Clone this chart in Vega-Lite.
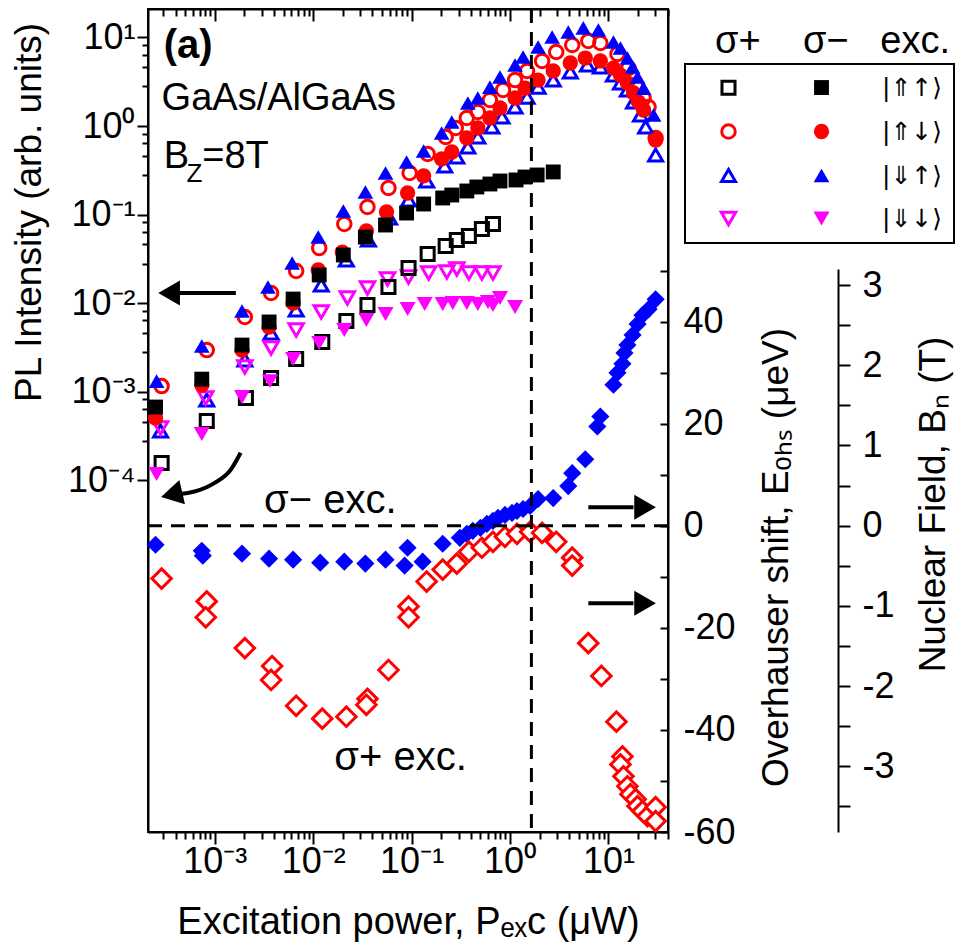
{
"$schema":"https://vega.github.io/schema/vega-lite/v6.json",
"width":520,"height":823,
"autosize":{"type":"none"},
"padding":{"left":148,"top":9,"right":295,"bottom":111},
"background":"white",
"config":{
 "font":"Liberation Sans",
 "view":{"stroke":"#000","strokeWidth":2},
 "axis":{"domainColor":"#000","domainWidth":2,"tickColor":"#000","tickWidth":2,"labelColor":"#000","titleColor":"#000","labelFont":"Liberation Sans","titleFont":"Liberation Sans","labelFontSize":36,"titleFontSize":37,"titleFontWeight":"normal","grid":false,"labelFlush":false,"labelOverlap":false},
 "legend":{"strokeWidth":2},
 "text":{"font":"Liberation Sans","color":"#000"}
},
"title":{"text":"σ+\u00a0\u00a0\u00a0\u00a0σ−\u00a0\u00a0\u00a0exc.","orient":"top","anchor":"end","frame":"group","offset":0,"dx":282,"dy":83,"baseline":"alphabetic","fontSize":38,"fontWeight":"normal","font":"Liberation Sans","color":"#000"},
"datasets":{
"pl":[
{"s":"σ+ |⇑↓⟩","x":0.000288,"y":0.00116},{"s":"σ+ |⇑↓⟩","x":0.000828,"y":0.00296},{"s":"σ+ |⇑↓⟩","x":0.00202,"y":0.00699},{"s":"σ+ |⇑↓⟩","x":0.00373,"y":0.01303},{"s":"σ+ |⇑↓⟩","x":0.00671,"y":0.0231},{"s":"σ+ |⇑↓⟩","x":0.01151,"y":0.042},{"s":"σ+ |⇑↓⟩","x":0.0207,"y":0.0783},{"s":"σ+ |⇑↓⟩","x":0.0356,"y":0.1218},{"s":"σ+ |⇑↓⟩","x":0.0582,"y":0.1995},{"s":"σ+ |⇑↓⟩","x":0.0955,"y":0.295},{"s":"σ+ |⇑↓⟩","x":0.1456,"y":0.483},{"s":"σ+ |⇑↓⟩","x":0.222,"y":0.751},{"s":"σ+ |⇑↓⟩","x":0.281,"y":0.949},{"s":"σ+ |⇑↓⟩","x":0.364,"y":1.231},{"s":"σ+ |⇑↓⟩","x":0.471,"y":1.439},{"s":"σ+ |⇑↓⟩","x":0.625,"y":1.965},{"s":"σ+ |⇑↓⟩","x":0.849,"y":2.55},{"s":"σ+ |⇑↓⟩","x":1.125,"y":3.3},{"s":"σ+ |⇑↓⟩","x":1.49,"y":4.18},{"s":"σ+ |⇑↓⟩","x":2.12,"y":5.42},{"s":"σ+ |⇑↓⟩","x":2.95,"y":6.84},{"s":"σ+ |⇑↓⟩","x":4.29,"y":8.21},{"s":"σ+ |⇑↓⟩","x":6.25,"y":9.11},{"s":"σ+ |⇑↓⟩","x":8.28,"y":8.64},{"s":"σ+ |⇑↓⟩","x":12.36,"y":6.5},{"s":"σ+ |⇑↓⟩","x":16.0,"y":4.51},{"s":"σ+ |⇑↓⟩","x":18.9,"y":2.9},{"s":"σ+ |⇑↓⟩","x":22.8,"y":2.07},{"s":"σ+ |⇑↓⟩","x":25.6,"y":1.64},{"s":"σ+ |⇑↓⟩","x":30.2,"y":0.732},
{"s":"σ+ |⇓↑⟩","x":0.000281,"y":0.000361},{"s":"σ+ |⇓↑⟩","x":0.000828,"y":0.000807},{"s":"σ+ |⇓↑⟩","x":0.00202,"y":0.00229},{"s":"σ+ |⇓↑⟩","x":0.00373,"y":0.00461},{"s":"σ+ |⇓↑⟩","x":0.00671,"y":0.00838},{"s":"σ+ |⇓↑⟩","x":0.01207,"y":0.01604},{"s":"σ+ |⇓↑⟩","x":0.02172,"y":0.0307},{"s":"σ+ |⇓↑⟩","x":0.0364,"y":0.0517},{"s":"σ+ |⇓↑⟩","x":0.0597,"y":0.0916},{"s":"σ+ |⇓↑⟩","x":0.0931,"y":0.146},{"s":"σ+ |⇓↑⟩","x":0.1422,"y":0.2395},{"s":"σ+ |⇓↑⟩","x":0.217,"y":0.354},{"s":"σ+ |⇓↑⟩","x":0.288,"y":0.447},{"s":"σ+ |⇓↑⟩","x":0.373,"y":0.579},{"s":"σ+ |⇓↑⟩","x":0.471,"y":0.751},{"s":"σ+ |⇓↑⟩","x":0.655,"y":0.975},{"s":"σ+ |⇓↑⟩","x":0.829,"y":1.264},{"s":"σ+ |⇓↑⟩","x":1.125,"y":1.64},{"s":"σ+ |⇓↑⟩","x":1.49,"y":2.12},{"s":"σ+ |⇓↑⟩","x":1.93,"y":2.75},{"s":"σ+ |⇓↑⟩","x":2.75,"y":3.3},{"s":"σ+ |⇓↑⟩","x":4.1,"y":4.07},{"s":"σ+ |⇓↑⟩","x":6.11,"y":4.88},{"s":"σ+ |⇓↑⟩","x":8.28,"y":4.63},{"s":"σ+ |⇓↑⟩","x":11.25,"y":3.76},{"s":"σ+ |⇓↑⟩","x":13.26,"y":3.06},{"s":"σ+ |⇓↑⟩","x":15.6,"y":2.55},{"s":"σ+ |⇓↑⟩","x":18.0,"y":1.87},{"s":"σ+ |⇓↑⟩","x":21.2,"y":1.33},{"s":"σ+ |⇓↑⟩","x":23.9,"y":0.975},{"s":"σ+ |⇓↑⟩","x":30.2,"y":0.471},
{"s":"σ+ |⇓↓⟩","x":0.000281,"y":0.00039},{"s":"σ+ |⇓↓⟩","x":0.000809,"y":0.000851},{"s":"σ+ |⇓↓⟩","x":0.00202,"y":0.00191},{"s":"σ+ |⇓↓⟩","x":0.00373,"y":0.00312},{"s":"σ+ |⇓↓⟩","x":0.00671,"y":0.00499},{"s":"σ+ |⇓↓⟩","x":0.01207,"y":0.00796},{"s":"σ+ |⇓↓⟩","x":0.02223,"y":0.01145},{"s":"σ+ |⇓↓⟩","x":0.0356,"y":0.01485},{"s":"σ+ |⇓↓⟩","x":0.0569,"y":0.01876},{"s":"σ+ |⇓↓⟩","x":0.0931,"y":0.01976},{"s":"σ+ |⇓↓⟩","x":0.1491,"y":0.0219},{"s":"σ+ |⇓↓⟩","x":0.228,"y":0.0225},{"s":"σ+ |⇓↓⟩","x":0.288,"y":0.0243},{"s":"σ+ |⇓↓⟩","x":0.382,"y":0.0219},{"s":"σ+ |⇓↓⟩","x":0.518,"y":0.0219},{"s":"σ+ |⇓↓⟩","x":0.671,"y":0.0219},
{"s":"σ+ |⇑↑⟩","x":0.000288,"y":0.000157},{"s":"σ+ |⇑↑⟩","x":0.000828,"y":0.000468},{"s":"σ+ |⇑↑⟩","x":0.00207,"y":0.000851},{"s":"σ+ |⇑↑⟩","x":0.00373,"y":0.00143},{"s":"σ+ |⇑↑⟩","x":0.00671,"y":0.00235},{"s":"σ+ |⇑↑⟩","x":0.01236,"y":0.00365},{"s":"σ+ |⇑↑⟩","x":0.02172,"y":0.0063},{"s":"σ+ |⇑↑⟩","x":0.0356,"y":0.00955},{"s":"σ+ |⇑↑⟩","x":0.0582,"y":0.01524},{"s":"σ+ |⇑↑⟩","x":0.0931,"y":0.025},{"s":"σ+ |⇑↑⟩","x":0.1456,"y":0.0359},{"s":"σ+ |⇑↑⟩","x":0.222,"y":0.0442},{"s":"σ+ |⇑↑⟩","x":0.288,"y":0.0517},{"s":"σ+ |⇑↑⟩","x":0.382,"y":0.0573},{"s":"σ+ |⇑↑⟩","x":0.518,"y":0.0687},{"s":"σ+ |⇑↑⟩","x":0.671,"y":0.0783},
{"s":"σ− |⇑↓⟩","x":0.00025,"y":0.000506},{"s":"σ− |⇑↓⟩","x":0.000737,"y":0.00119},{"s":"σ− |⇑↓⟩","x":0.00189,"y":0.00296},{"s":"σ− |⇑↓⟩","x":0.00356,"y":0.00538},{"s":"σ− |⇑↓⟩","x":0.00625,"y":0.01005},{"s":"σ− |⇑↓⟩","x":0.01125,"y":0.0237},{"s":"σ− |⇑↓⟩","x":0.01976,"y":0.0378},{"s":"σ− |⇑↓⟩","x":0.0347,"y":0.0653},{"s":"σ− |⇑↓⟩","x":0.0556,"y":0.107},{"s":"σ− |⇑↓⟩","x":0.091,"y":0.1754},{"s":"σ− |⇑↓⟩","x":0.1325,"y":0.273},{"s":"σ− |⇑↓⟩","x":0.202,"y":0.425},{"s":"σ− |⇑↓⟩","x":0.256,"y":0.509},{"s":"σ− |⇑↓⟩","x":0.364,"y":0.732},{"s":"σ− |⇑↓⟩","x":0.471,"y":0.949},{"s":"σ− |⇑↓⟩","x":0.625,"y":1.231},{"s":"σ− |⇑↓⟩","x":0.791,"y":1.596},{"s":"σ− |⇑↓⟩","x":1.125,"y":2.07},{"s":"σ− |⇑↓⟩","x":1.422,"y":2.68},{"s":"σ− |⇑↓⟩","x":1.93,"y":3.3},{"s":"σ− |⇑↓⟩","x":2.75,"y":4.18},{"s":"σ− |⇑↓⟩","x":4.1,"y":5.14},{"s":"σ− |⇑↓⟩","x":5.82,"y":5.85},{"s":"σ− |⇑↓⟩","x":8.28,"y":5.42},{"s":"σ− |⇑↓⟩","x":11.25,"y":4.51},{"s":"σ− |⇑↓⟩","x":13.26,"y":3.76},{"s":"σ− |⇑↓⟩","x":15.6,"y":3.06},{"s":"σ− |⇑↓⟩","x":18.0,"y":2.36},{"s":"σ− |⇑↓⟩","x":20.2,"y":1.87},{"s":"σ− |⇑↓⟩","x":22.8,"y":1.516},{"s":"σ− |⇑↓⟩","x":30.2,"y":0.695},
{"s":"σ− |⇑↑⟩","x":0.00025,"y":0.000673},{"s":"σ− |⇑↑⟩","x":0.000737,"y":0.00139},{"s":"σ− |⇑↑⟩","x":0.00189,"y":0.00337},{"s":"σ− |⇑↑⟩","x":0.00356,"y":0.00614},{"s":"σ− |⇑↑⟩","x":0.00625,"y":0.01114},{"s":"σ− |⇑↑⟩","x":0.01151,"y":0.0208},{"s":"σ− |⇑↑⟩","x":0.02023,"y":0.035},{"s":"σ− |⇑↑⟩","x":0.0339,"y":0.0558},{"s":"σ− |⇑↑⟩","x":0.0543,"y":0.0763},{"s":"σ− |⇑↑⟩","x":0.0889,"y":0.1042},{"s":"σ− |⇑↑⟩","x":0.1325,"y":0.1317},{"s":"σ− |⇑↑⟩","x":0.207,"y":0.154},{"s":"σ− |⇑↑⟩","x":0.256,"y":0.1664},{"s":"σ− |⇑↑⟩","x":0.364,"y":0.1847},{"s":"σ− |⇑↑⟩","x":0.46,"y":0.205},{"s":"σ− |⇑↑⟩","x":0.625,"y":0.2215},{"s":"σ− |⇑↑⟩","x":0.791,"y":0.2395},{"s":"σ− |⇑↑⟩","x":1.152,"y":0.246},{"s":"σ− |⇑↑⟩","x":1.422,"y":0.2656},{"s":"σ− |⇑↑⟩","x":1.887,"y":0.28},{"s":"σ− |⇑↑⟩","x":2.75,"y":0.303},
{"s":"σ− |⇓↑⟩","x":0.000256,"y":0.00132},{"s":"σ− |⇓↑⟩","x":0.000737,"y":0.00329},{"s":"σ− |⇓↑⟩","x":0.00189,"y":0.00817},{"s":"σ− |⇓↑⟩","x":0.00347,"y":0.01524},{"s":"σ− |⇓↑⟩","x":0.00611,"y":0.0284},{"s":"σ− |⇓↑⟩","x":0.01125,"y":0.0558},{"s":"σ− |⇓↑⟩","x":0.02023,"y":0.1098},{"s":"σ− |⇓↑⟩","x":0.0339,"y":0.18},{"s":"σ− |⇓↑⟩","x":0.0543,"y":0.295},{"s":"σ− |⇓↑⟩","x":0.0889,"y":0.393},{"s":"σ− |⇓↑⟩","x":0.1325,"y":0.522},{"s":"σ− |⇓↑⟩","x":0.202,"y":0.834},{"s":"σ− |⇓↑⟩","x":0.256,"y":1.11},{"s":"σ− |⇓↑⟩","x":0.373,"y":1.82},{"s":"σ− |⇓↑⟩","x":0.471,"y":2.07},{"s":"σ− |⇓↑⟩","x":0.625,"y":2.75},{"s":"σ− |⇓↑⟩","x":0.791,"y":3.57},{"s":"σ− |⇓↑⟩","x":1.125,"y":4.88},{"s":"σ− |⇓↑⟩","x":1.358,"y":6.01},{"s":"σ− |⇓↑⟩","x":1.93,"y":7.79},{"s":"σ− |⇓↑⟩","x":2.68,"y":10.1},{"s":"σ− |⇓↑⟩","x":3.91,"y":11.5},{"s":"σ− |⇓↑⟩","x":5.56,"y":12.8},{"s":"σ− |⇓↑⟩","x":7.91,"y":12.1},{"s":"σ− |⇓↑⟩","x":11.25,"y":8.87},{"s":"σ− |⇓↑⟩","x":13.26,"y":7.59},{"s":"σ− |⇓↑⟩","x":15.6,"y":5.85},{"s":"σ− |⇓↑⟩","x":17.6,"y":4.63},{"s":"σ− |⇓↑⟩","x":19.8,"y":3.57},{"s":"σ− |⇓↑⟩","x":22.8,"y":2.68},{"s":"σ− |⇓↑⟩","x":28.8,"y":1.33},
{"s":"σ− |⇓↓⟩","x":0.000256,"y":0.000118},{"s":"σ− |⇓↓⟩","x":0.000737,"y":0.000334},{"s":"σ− |⇓↓⟩","x":0.00189,"y":0.000873},{"s":"σ− |⇓↓⟩","x":0.00364,"y":0.00132},{"s":"σ− |⇓↓⟩","x":0.00625,"y":0.00235},{"s":"σ− |⇓↓⟩","x":0.01151,"y":0.00356},{"s":"σ− |⇓↓⟩","x":0.0207,"y":0.00499},{"s":"σ− |⇓↓⟩","x":0.0347,"y":0.00646},{"s":"σ− |⇓↓⟩","x":0.0543,"y":0.00755},{"s":"σ− |⇓↓⟩","x":0.091,"y":0.00861},{"s":"σ− |⇓↓⟩","x":0.1358,"y":0.0098},{"s":"σ− |⇓↓⟩","x":0.207,"y":0.0098},{"s":"σ− |⇓↓⟩","x":0.262,"y":0.01005},{"s":"σ− |⇓↓⟩","x":0.364,"y":0.01005},{"s":"σ− |⇓↓⟩","x":0.471,"y":0.0098},{"s":"σ− |⇓↓⟩","x":0.597,"y":0.01032},{"s":"σ− |⇓↓⟩","x":0.671,"y":0.00955},{"s":"σ− |⇓↓⟩","x":0.791,"y":0.01145},{"s":"σ− |⇓↓⟩","x":1.125,"y":0.00906}
],
"ohs":[
{"exc":"σ−","x":0.00025,"e":-3.7},{"exc":"σ−","x":0.000737,"e":-4.87},{"exc":"σ−","x":0.000755,"e":-5.84},{"exc":"σ−","x":0.00189,"e":-5.45},{"exc":"σ−","x":0.00356,"e":-6.43},{"exc":"σ−","x":0.00625,"e":-6.62},{"exc":"σ−","x":0.01178,"e":-7.21},{"exc":"σ−","x":0.0207,"e":-7.01},{"exc":"σ−","x":0.0339,"e":-7.4},{"exc":"σ−","x":0.0543,"e":-6.62},{"exc":"σ−","x":0.091,"e":-4.29},{"exc":"σ−","x":0.0849,"e":-7.79},{"exc":"σ−","x":0.1294,"e":-7.01},{"exc":"σ−","x":0.207,"e":-3.51},{"exc":"σ−","x":0.309,"e":-2.34},{"exc":"σ−","x":0.364,"e":-1.56},{"exc":"σ−","x":0.419,"e":-0.97},{"exc":"σ−","x":0.5,"e":-0.39},{"exc":"σ−","x":0.582,"e":0.39},{"exc":"σ−","x":0.671,"e":0.97},{"exc":"σ−","x":0.755,"e":1.56},{"exc":"σ−","x":0.889,"e":2.14},{"exc":"σ−","x":1.048,"e":2.53},{"exc":"σ−","x":1.178,"e":2.92},{"exc":"σ−","x":1.358,"e":3.31},{"exc":"σ−","x":1.6,"e":3.9},{"exc":"σ−","x":1.93,"e":5.26},{"exc":"σ−","x":2.75,"e":5.45},{"exc":"σ−","x":3.91,"e":7.79},{"exc":"σ−","x":4.29,"e":10.33},{"exc":"σ−","x":5.82,"e":13.05},{"exc":"σ−","x":7.72,"e":19.48},{"exc":"σ−","x":8.28,"e":21.43},{"exc":"σ−","x":11.25,"e":27.66},{"exc":"σ−","x":12.36,"e":30.0},{"exc":"σ−","x":13.89,"e":31.76},{"exc":"σ−","x":14.56,"e":33.9},{"exc":"σ−","x":15.6,"e":35.46},{"exc":"σ−","x":17.6,"e":37.4},{"exc":"σ−","x":19.8,"e":39.55},{"exc":"σ−","x":22.2,"e":41.3},{"exc":"σ−","x":25.6,"e":42.47},{"exc":"σ−","x":30.2,"e":44.4},
{"exc":"σ+","x":0.000288,"e":-10.33},{"exc":"σ+","x":0.000828,"e":-14.81},{"exc":"σ+","x":0.000809,"e":-17.92},{"exc":"σ+","x":0.00202,"e":-23.96},{"exc":"σ+","x":0.00382,"e":-27.47},{"exc":"σ+","x":0.00373,"e":-30.2},{"exc":"σ+","x":0.00671,"e":-35.26},{"exc":"σ+","x":0.01236,"e":-37.79},{"exc":"σ+","x":0.02172,"e":-37.41},{"exc":"σ+","x":0.0356,"e":-33.9},{"exc":"σ+","x":0.0347,"e":-35.07},{"exc":"σ+","x":0.0582,"e":-28.25},{"exc":"σ+","x":0.0931,"e":-15.78},{"exc":"σ+","x":0.0931,"e":-17.92},{"exc":"σ+","x":0.1422,"e":-10.91},{"exc":"σ+","x":0.207,"e":-8.57},{"exc":"σ+","x":0.288,"e":-7.4},{"exc":"σ+","x":0.382,"e":-5.07},{"exc":"σ+","x":0.518,"e":-4.29},{"exc":"σ+","x":0.671,"e":-3.12},{"exc":"σ+","x":0.889,"e":-2.14},{"exc":"σ+","x":1.178,"e":-1.56},{"exc":"σ+","x":1.6,"e":-1.17},{"exc":"σ+","x":2.12,"e":-1.36},{"exc":"σ+","x":2.95,"e":-3.12},{"exc":"σ+","x":4.29,"e":-6.23},{"exc":"σ+","x":4.29,"e":-7.79},{"exc":"σ+","x":6.25,"e":-22.99},{"exc":"σ+","x":8.48,"e":-29.42},{"exc":"σ+","x":12.07,"e":-38.38},{"exc":"σ+","x":13.89,"e":-45.2},{"exc":"σ+","x":13.26,"e":-46.76},{"exc":"σ+","x":14.22,"e":-49.09},{"exc":"σ+","x":15.6,"e":-51.04},{"exc":"σ+","x":16.76,"e":-52.6},{"exc":"σ+","x":18.9,"e":-53.58},{"exc":"σ+","x":19.8,"e":-54.94},{"exc":"σ+","x":22.2,"e":-55.91},{"exc":"σ+","x":25.0,"e":-56.89},{"exc":"σ+","x":30.2,"e":-55.13},{"exc":"σ+","x":30.2,"e":-57.86}
]
},
"layer":[
{
 "layer":[
  {"data":{"name":"pl"},
   "mark":{"type":"point","strokeWidth":3,"opacity":1},
   "encoding":{
    "x":{"field":"x","type":"quantitative","scale":{"type":"log","domain":[0.0002094,40.34],"nice":false},
      "axis":{"orient":"bottom","values":[0.0003,0.0004,0.0005,0.0006,0.0007,0.0008,0.0009,0.001,0.002,0.003,0.004,0.005,0.006,0.007,0.008,0.009,0.01,0.02,0.03,0.04,0.05,0.06,0.07,0.08,0.09,0.1,0.2,0.3,0.4,0.5,0.6,0.7,0.8,0.9,1,2,3,4,5,6,7,8,9,10,20,30,40],
       "labelExpr":"abs(log(datum.value)/LN10-round(log(datum.value)/LN10))>0.001 ? '' : round(log(datum.value)/LN10)==-4 ? '10⁻⁴' : round(log(datum.value)/LN10)==-3 ? '10⁻³' : round(log(datum.value)/LN10)==-2 ? '10⁻²' : round(log(datum.value)/LN10)==-1 ? '10⁻¹' : round(log(datum.value)/LN10)==0 ? '10⁰' : '10¹'",
       "tickSize":{"condition":{"test":"abs(log(datum.value)/LN10-round(log(datum.value)/LN10))<0.001","value":12},"value":7},
       "labelPadding":0,
       "title":"Excitation power, Pₑₓc (μW)","titleFontSize":38,"titleY":101,"titleBaseline":"alphabetic"}},
    "y":{"field":"y","type":"quantitative","scale":{"type":"log","domain":[1.076e-8,20.92],"nice":false},
      "axis":{"orient":"left","values":[0.0001,0.00028,0.00046,0.00064,0.00082,0.001,0.0028,0.0046,0.0064,0.0082,0.01,0.028,0.046,0.064,0.082,0.1,0.28,0.46,0.64,0.82,1,2.8,4.6,6.4,8.2,10],
       "labelExpr":"abs(log(datum.value)/LN10-round(log(datum.value)/LN10))>0.001 ? '' : round(log(datum.value)/LN10)==-4 ? '10⁻⁴' : round(log(datum.value)/LN10)==-3 ? '10⁻³' : round(log(datum.value)/LN10)==-2 ? '10⁻²' : round(log(datum.value)/LN10)==-1 ? '10⁻¹' : round(log(datum.value)/LN10)==0 ? '10⁰' : '10¹'",
       "tickSize":{"condition":{"test":"abs(log(datum.value)/LN10-round(log(datum.value)/LN10))<0.001","value":11},"value":6},
       "labelPadding":2,
       "title":"PL Intensity (arb. units)","titleAngle":-90,"titleX":-100,"titleY":203,"titleBaseline":"bottom","titleAlign":"center"}},
    "shape":{"field":"s","type":"nominal",
      "scale":{"domain":["σ+ |⇑↑⟩","σ+ |⇑↓⟩","σ+ |⇓↑⟩","σ+ |⇓↓⟩","σ− |⇑↑⟩","σ− |⇑↓⟩","σ− |⇓↑⟩","σ− |⇓↓⟩"],"range":["square","circle","triangle-up","triangle-down","square","circle","triangle-up","triangle-down"]},
      "legend":{"title":null,"orient":"none","legendX":537,"legendY":55,"columns":2,"padding":11,"rowPadding":16,"columnPadding":0,"labelOffset":48,"symbolOffset":20,"labelFont":"DejaVu Sans","labelFontSize":25,"labelColor":"#000","symbolStrokeWidth":3,"strokeColor":"#000","labelExpr":"datum.label=='σ− |⇑↑⟩' ? '|⇑↑⟩' : datum.label=='σ− |⇑↓⟩' ? '|⇑↓⟩' : datum.label=='σ− |⇓↑⟩' ? '|⇓↑⟩' : datum.label=='σ− |⇓↓⟩' ? '|⇓↓⟩' : ''"}},
    "fill":{"field":"s","type":"nominal",
      "scale":{"domain":["σ+ |⇑↑⟩","σ+ |⇑↓⟩","σ+ |⇓↑⟩","σ+ |⇓↓⟩","σ− |⇑↑⟩","σ− |⇑↓⟩","σ− |⇓↑⟩","σ− |⇓↓⟩"],"range":["transparent","transparent","transparent","transparent","#000000","#ff0000","#0000ff","#ff00ff"]},
      "legend":{"title":null,"orient":"none","legendX":537,"legendY":55,"columns":2,"padding":11,"rowPadding":16,"columnPadding":0,"labelOffset":48,"symbolOffset":20,"labelFont":"DejaVu Sans","labelFontSize":25,"labelColor":"#000","symbolStrokeWidth":3,"strokeColor":"#000","labelExpr":"datum.label=='σ− |⇑↑⟩' ? '|⇑↑⟩' : datum.label=='σ− |⇑↓⟩' ? '|⇑↓⟩' : datum.label=='σ− |⇓↑⟩' ? '|⇓↑⟩' : datum.label=='σ− |⇓↓⟩' ? '|⇓↓⟩' : ''"}},
    "stroke":{"field":"s","type":"nominal",
      "scale":{"domain":["σ+ |⇑↑⟩","σ+ |⇑↓⟩","σ+ |⇓↑⟩","σ+ |⇓↓⟩","σ− |⇑↑⟩","σ− |⇑↓⟩","σ− |⇓↑⟩","σ− |⇓↓⟩"],"range":["#000000","#ff0000","#0000ff","#ff00ff","transparent","transparent","transparent","transparent"]},
      "legend":{"title":null,"orient":"none","legendX":537,"legendY":55,"columns":2,"padding":11,"rowPadding":16,"columnPadding":0,"labelOffset":48,"symbolOffset":20,"labelFont":"DejaVu Sans","labelFontSize":25,"labelColor":"#000","symbolStrokeWidth":3,"strokeColor":"#000","labelExpr":"datum.label=='σ− |⇑↑⟩' ? '|⇑↑⟩' : datum.label=='σ− |⇑↓⟩' ? '|⇑↓⟩' : datum.label=='σ− |⇓↑⟩' ? '|⇓↑⟩' : datum.label=='σ− |⇓↓⟩' ? '|⇓↓⟩' : ''"}},
    "size":{"field":"s","type":"nominal",
      "scale":{"domain":["σ+ |⇑↑⟩","σ+ |⇑↓⟩","σ+ |⇓↑⟩","σ+ |⇓↓⟩","σ− |⇑↑⟩","σ− |⇑↓⟩","σ− |⇓↑⟩","σ− |⇓↓⟩"],"range":[170,260,320,320,90,130,170,150]},
      "legend":{"title":null,"orient":"none","legendX":537,"legendY":55,"columns":2,"padding":11,"rowPadding":16,"columnPadding":0,"labelOffset":48,"symbolOffset":20,"labelFont":"DejaVu Sans","labelFontSize":25,"labelColor":"#000","symbolStrokeWidth":3,"strokeColor":"#000","labelExpr":"datum.label=='σ− |⇑↑⟩' ? '|⇑↑⟩' : datum.label=='σ− |⇑↓⟩' ? '|⇑↓⟩' : datum.label=='σ− |⇓↑⟩' ? '|⇓↑⟩' : datum.label=='σ− |⇓↓⟩' ? '|⇓↓⟩' : ''"}}
   }},
  {"data":{"values":[{"x1":0.001637,"x2":0.000429,"y":0.01303}]},
   "mark":{"type":"rule","color":"#000","strokeWidth":4},
   "encoding":{"x":{"field":"x1","type":"quantitative","scale":{"type":"log","domain":[0.0002094,40.34],"nice":false}},"x2":{"field":"x2"},"y":{"field":"y","type":"quantitative","scale":{"type":"log","domain":[1.076e-8,20.92],"nice":false}}}},
  {"data":{"values":[{"x":0.00183,"y":0.000205},{"x":0.001445,"y":0.000131},{"x":0.000977,"y":0.0000927},{"x":0.00061,"y":0.0000745},{"x":0.000439,"y":0.0000703}]},
   "mark":{"type":"line","color":"#000","strokeWidth":4,"interpolate":"monotone"},
   "encoding":{"x":{"field":"x","type":"quantitative","scale":{"type":"log","domain":[0.0002094,40.34],"nice":false}},"y":{"field":"y","type":"quantitative","scale":{"type":"log","domain":[1.076e-8,20.92],"nice":false}}}},
  {"data":{"values":[{"x":0.000343,"y":0.01303}]},
   "mark":{"type":"point","shape":"triangle-left","filled":true,"size":625,"color":"#000","opacity":1},
   "encoding":{"x":{"field":"x","type":"quantitative","scale":{"type":"log","domain":[0.0002094,40.34],"nice":false}},"y":{"field":"y","type":"quantitative","scale":{"type":"log","domain":[1.076e-8,20.92],"nice":false}}}},
  {"data":{"values":[{"x":0.000364,"y":0.0000693}]},
   "mark":{"type":"point","shape":"triangle-left","filled":true,"size":625,"color":"#000","opacity":1,"angle":-13},
   "encoding":{"x":{"field":"x","type":"quantitative","scale":{"type":"log","domain":[0.0002094,40.34],"nice":false}},"y":{"field":"y","type":"quantitative","scale":{"type":"log","domain":[1.076e-8,20.92],"nice":false}}}},
  {"data":{"values":[{"x":0.000302,"y":5.85,"t":"(a)"}]},
   "mark":{"type":"text","align":"left","baseline":"alphabetic","fontSize":40,"fontWeight":"bold"},
   "encoding":{"x":{"field":"x","type":"quantitative","scale":{"type":"log","domain":[0.0002094,40.34],"nice":false}},"y":{"field":"y","type":"quantitative","scale":{"type":"log","domain":[1.076e-8,20.92],"nice":false}},"text":{"field":"t"}}},
  {"data":{"values":[{"x":0.000288,"y":1.516,"t":"GaAs/AlGaAs"},{"x":0.000302,"y":0.336,"t":"B"},{"x":0.000746,"y":0.336,"t":"=8T"}]},
   "mark":{"type":"text","align":"left","baseline":"alphabetic","fontSize":38},
   "encoding":{"x":{"field":"x","type":"quantitative","scale":{"type":"log","domain":[0.0002094,40.34],"nice":false}},"y":{"field":"y","type":"quantitative","scale":{"type":"log","domain":[1.076e-8,20.92],"nice":false}},"text":{"field":"t"}}},
  {"data":{"values":[{"x":0.000515,"y":0.233,"t":"Z"}]},
   "mark":{"type":"text","align":"left","baseline":"alphabetic","fontSize":26},
   "encoding":{"x":{"field":"x","type":"quantitative","scale":{"type":"log","domain":[0.0002094,40.34],"nice":false}},"y":{"field":"y","type":"quantitative","scale":{"type":"log","domain":[1.076e-8,20.92],"nice":false}},"text":{"field":"t"}}}
 ]
},
{
 "layer":[
  {"data":{"name":"ohs"},"transform":[{"filter":"datum.exc=='σ−'"}],
   "mark":{"type":"point","shape":"diamond","filled":true,"size":330,"color":"#0000ff","opacity":1},
   "encoding":{
    "x":{"field":"x","type":"quantitative","scale":{"type":"log","domain":[0.0002094,40.34],"nice":false},"axis":null},
    "y":{"field":"e","type":"quantitative","scale":{"type":"linear","domain":[-60,101.3],"nice":false,"zero":false},
      "axis":{"orient":"right","values":[-60,-50,-40,-30,-20,-10,0,10,20,30,40,50],"labelExpr":"datum.value % 20 == 0 ? '' + datum.value : ''","tickSize":-8,"labelPadding":23,
       "title":"Overhauser shift, Eₒₕₛ (μeV)","titleAngle":-90,"titleX":127,"titleY":548,"titleBaseline":"bottom","titleAlign":"center"}}}},
  {"data":{"name":"ohs"},"transform":[{"filter":"datum.exc=='σ+'"}],
   "mark":{"type":"point","shape":"diamond","filled":false,"size":380,"stroke":"#ff0000","fill":"white","strokeWidth":3,"opacity":1},
   "encoding":{
    "x":{"field":"x","type":"quantitative","scale":{"type":"log","domain":[0.0002094,40.34],"nice":false}},
    "y":{"field":"e","type":"quantitative","scale":{"type":"linear","domain":[-60,101.3],"nice":false,"zero":false}}}},
  {"data":{"values":[{"x":0.00316,"e":2.49,"t":"σ− exc."},{"x":0.01637,"e":-47.9,"t":"σ+ exc."}]},
   "mark":{"type":"text","align":"left","baseline":"alphabetic","fontSize":40},
   "encoding":{"x":{"field":"x","type":"quantitative","scale":{"type":"log","domain":[0.0002094,40.34],"nice":false}},"y":{"field":"e","type":"quantitative","scale":{"type":"linear","domain":[-60,101.3],"nice":false,"zero":false}},"text":{"field":"t"}}},
  {"data":{"values":[{"x1":6.25,"x2":18.0,"e":3.67},{"x1":6.25,"x2":18.0,"e":-15.16}]},
   "mark":{"type":"rule","color":"#000","strokeWidth":4},
   "encoding":{"x":{"field":"x1","type":"quantitative","scale":{"type":"log","domain":[0.0002094,40.34],"nice":false}},"x2":{"field":"x2"},"y":{"field":"e","type":"quantitative","scale":{"type":"linear","domain":[-60,101.3],"nice":false,"zero":false}}}},
  {"data":{"values":[{"x":23.6,"e":3.67},{"x":23.6,"e":-15.16}]},
   "mark":{"type":"point","shape":"triangle-right","filled":true,"size":625,"color":"#000","opacity":1},
   "encoding":{"x":{"field":"x","type":"quantitative","scale":{"type":"log","domain":[0.0002094,40.34],"nice":false}},"y":{"field":"e","type":"quantitative","scale":{"type":"linear","domain":[-60,101.3],"nice":false,"zero":false}}}}
 ]
},
{"data":{"values":[{"t":0}]},
 "mark":{"type":"rule","color":"#000","strokeWidth":3,"strokeDash":[14,9]},
 "encoding":{"y":{"field":"t","type":"quantitative","scale":{"type":"linear","domain":[-3.819,3.2],"range":[823,260],"nice":false,"zero":false},
   "axis":{"orient":"right","offset":170,"values":[-3.5,-3,-2.5,-2,-1.5,-1,-0.5,0,0.5,1,1.5,2,2.5,3],"labelExpr":"datum.value % 1 == 0 ? '' + datum.value : ''","tickSize":12,"labelPadding":12,
    "title":"Nuclear Field, Bₙ (T)","titleAngle":-90,"titleX":114,"titleY":495,"titleBaseline":"bottom","titleAlign":"center"}}}},
{"data":{"values":[{"p":1.65}]},
 "mark":{"type":"rule","color":"#000","strokeWidth":3,"strokeDash":[14,9]},
 "encoding":{"x":{"field":"p","type":"quantitative","scale":{"type":"log","domain":[0.0002094,40.34],"nice":false},
   "axis":{"orient":"top","values":[0.0003,0.0004,0.0005,0.0006,0.0007,0.0008,0.0009,0.001,0.002,0.003,0.004,0.005,0.006,0.007,0.008,0.009,0.01,0.02,0.03,0.04,0.05,0.06,0.07,0.08,0.09,0.1,0.2,0.3,0.4,0.5,0.6,0.7,0.8,0.9,1,2,3,4,5,6,7,8,9,10,20,30,40],"labels":false,"title":null,
    "tickSize":{"condition":{"test":"abs(log(datum.value)/LN10-round(log(datum.value)/LN10))<0.001","value":-12},"value":-7}}}}}
],
"resolve":{"scale":{"x":"independent","y":"independent"},"axis":{"x":"independent","y":"independent"}}
}
